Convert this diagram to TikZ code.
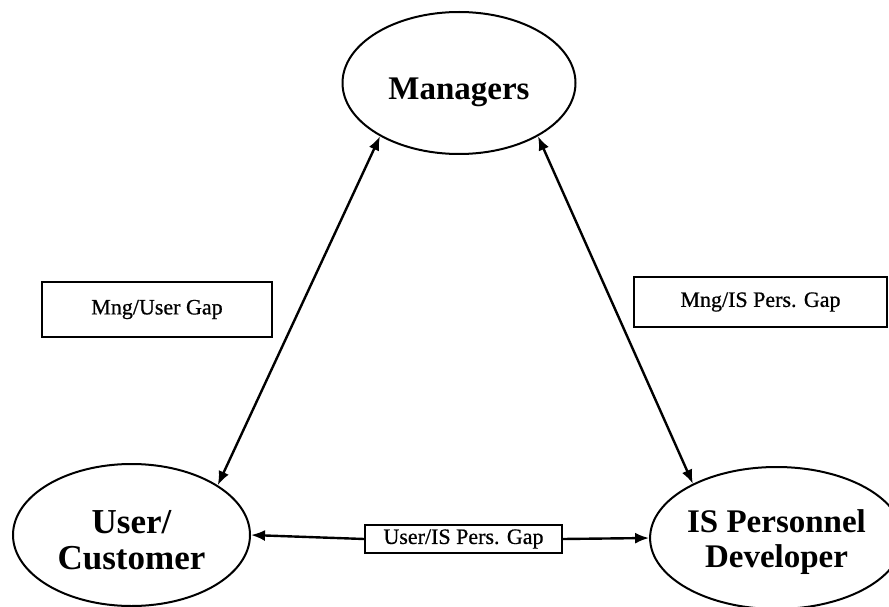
\documentclass[tikz,border=0pt]{standalone}
\usepackage{fontspec}
\setmainfont{Liberation Serif}
\newfontfamily\scanfont{Liberation Serif}[FakeBold=0.7]
\usetikzlibrary{shapes.geometric,arrows.meta}
\tikzset{
  actor/.style={ellipse, draw, line width=2pt, inner sep=0pt, align=center, font=\bfseries},
  gapbox/.style={rectangle, draw, line width=1.6pt, inner sep=0pt, font=\scanfont\fontsize{22}{26}\selectfont},
  link/.style={line width=2.4pt, {Latex[length=14pt,width=11pt]}-{Latex[length=14pt,width=11pt]}},
  halflink/.style={line width=2.4pt, -{Latex[length=14pt,width=11pt]}}
}
\begin{document}
\begin{tikzpicture}[x=1pt,y=-1pt]
\useasboundingbox (0,0) rectangle (889,607);
\node[actor, minimum width=233pt, minimum height=142pt, font=\bfseries\fontsize{33}{38}\selectfont] (M) at (459,83) {\raisebox{-9pt}[\height][\depth]{Managers}};
\node[actor, minimum width=237pt, minimum height=142pt, font=\bfseries\fontsize{35}{40}\selectfont] (U) at (131.5,535) {\raisebox{-8pt}[\height][\depth]{\begin{tabular}{@{}c@{}}User/\\[-4pt]Customer\end{tabular}}};
\node[actor, minimum width=223pt, minimum height=142pt, font=\bfseries\fontsize{33}{39}\selectfont] (D) at (776.5,538) {\raisebox{-4pt}[\height][\depth]{\begin{tabular}{@{}c@{}}IS Personnel\\[-4pt]Developer\end{tabular}}};
\node[gapbox, minimum width=230pt, minimum height=55pt] (G1) at (157,309.5) {Mng/User Gap};
\node[gapbox, minimum width=253pt, minimum height=50pt] (G2) at (760.5,302) {Mng/IS Pers. Gap};
\node[gapbox, minimum width=197pt, minimum height=28pt] (G3) at (463.5,539) {User/IS Pers. Gap};
\draw[link] (M.214) -- (U.30);
\draw[link] (M.326) -- (D.147);
\draw[halflink] (G3.west) -- (U.east);
\draw[halflink] (G3.east) -- (D.west);
\end{tikzpicture}
\end{document}
